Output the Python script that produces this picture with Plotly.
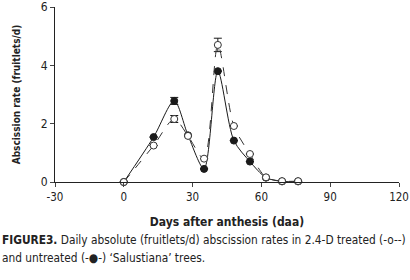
import plotly.graph_objects as go

days_untreated = [0, 13, 22, 28, 35, 41, 48, 55, 62, 69, 76]
rate_untreated = [0.0, 1.54, 2.78, 1.6, 0.45, 3.8, 1.42, 0.70, 0.15, 0.02, 0.02]
err_untreated = [0, 0, 0.12, 0, 0, 0, 0, 0, 0, 0, 0]

days_treated = [0, 13, 22, 28, 35, 41, 48, 55, 62, 69, 76]
rate_treated = [0.0, 1.25, 2.16, 1.58, 0.80, 4.7, 1.92, 0.96, 0.16, 0.03, 0.03]
err_treated = [0, 0, 0.12, 0, 0, 0.23, 0, 0, 0, 0, 0]

x_ticks = [-30, 0, 30, 60, 90, 120]
x_tick_labels = ["-30", "0", "30", "60", "90", "120"]
y_ticks = [0, 2, 4, 6]

caption_line1 = "<b>FIGURE3.</b> Daily absolute (fruitlets/d) abscission rates in 2.4-D treated (-o--)"
caption_line2 = "and untreated (-●-) ‘Salustiana’ trees."

font_main = "Liberation Sans Narrow, DejaVu Sans Condensed, Liberation Sans, Arial, sans-serif"

fig = go.Figure()
fig.add_trace(go.Scatter(
    x=days_untreated, y=rate_untreated, mode="lines+markers",
    line=dict(color="#1a1a1a", width=1, shape="spline", smoothing=0.8),
    marker=dict(symbol="circle", size=7, color="#1a1a1a", line=dict(color="#1a1a1a", width=1)),
    error_y=dict(type="data", array=err_untreated, visible=True, color="#1a1a1a", thickness=1, width=4),
    cliponaxis=False, showlegend=False))
fig.add_trace(go.Scatter(
    x=days_treated, y=rate_treated, mode="lines+markers",
    line=dict(color="#333333", width=1, dash="dash", shape="spline", smoothing=0.8),
    marker=dict(symbol="circle", size=7, color="white", line=dict(color="#333333", width=1)),
    error_y=dict(type="data", array=err_treated, visible=True, color="#1a1a1a", thickness=1, width=4),
    cliponaxis=False, showlegend=False))

fig.update_layout(
    width=410, height=280,
    margin=dict(l=55, r=11, t=7, b=98, autoexpand=False),
    paper_bgcolor="white", plot_bgcolor="white",
    font=dict(family=font_main, size=12, color="#222222"),
    xaxis=dict(range=[-30, 120], tickvals=x_ticks, ticktext=x_tick_labels, ticks="outside", ticklen=4,
               ticklabeloverflow="allow",
               showline=True, linecolor="#222222", linewidth=1, showgrid=False, zeroline=False,
               tickfont=dict(size=11.5, family=font_main),
               title=dict(text="<b>Days after anthesis (daa)</b>", font=dict(size=12, family=font_main), standoff=14)),
    yaxis=dict(range=[0, 6], tickvals=y_ticks, ticks="outside", ticklen=4,
               ticklabeloverflow="allow",
               showline=True, linecolor="#222222", linewidth=1, showgrid=False, zeroline=False,
               tickfont=dict(size=12, family=font_main),
               title=dict(text="<b>Abscission rate (fruitlets/d)</b>", font=dict(size=10, family=font_main), standoff=18)),
)

fig.add_annotation(
    text=caption_line1,
    xref="paper", yref="paper", x=0, y=0, xshift=-55, yshift=-58,
    xanchor="left", yanchor="middle", align="left", showarrow=False,
    font=dict(size=11.8, family=font_main, color="#222222"))
fig.add_annotation(
    text=caption_line2,
    xref="paper", yref="paper", x=0, y=0, xshift=-55, yshift=-76,
    xanchor="left", yanchor="middle", align="left", showarrow=False,
    font=dict(size=11.8, family=font_main, color="#222222"))

fig.write_html("out.html", config={"displayModeBar": False},
               post_script="document.body.style.margin='0';")
